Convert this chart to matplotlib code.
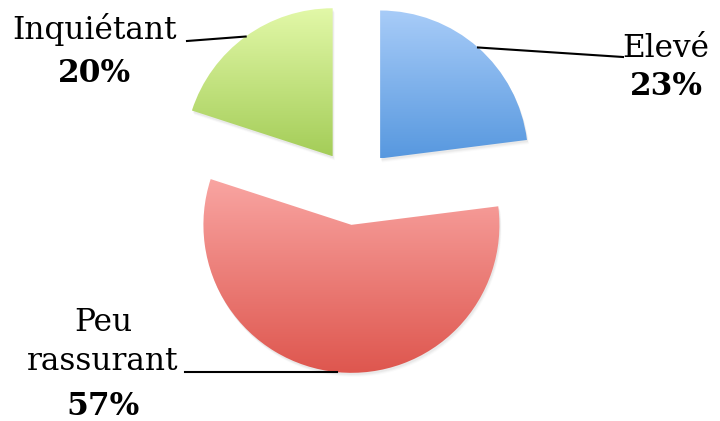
import numpy as np
import matplotlib
matplotlib.use("Agg")
import matplotlib.pyplot as plt
from matplotlib.colors import to_rgb

# data
categories = ["Elevé", "Peu\nrassurant", "Inquiétant"]
shares = [23, 57, 20]
top_colors = ["#a8ccf8", "#f9a5a2", "#e2f8a8"]
bottom_colors = ["#5798df", "#de564e", "#a4cd58"]

W, H = 720, 421
RADIUS = 148
CENTER = (355, H - 187)
EXPLODE = 38

plt.rcParams["font.family"] = ["DejaVu Serif"]

fig = plt.figure(figsize=(W / 100, H / 100), dpi=100)
ax = fig.add_axes([0, 0, 1, 1])
ax.set_axis_off()

wedges, _ = ax.pie(shares, radius=RADIUS, center=CENTER,
                   explode=[EXPLODE] * len(shares),
                   startangle=90, counterclock=False,
                   wedgeprops={"linewidth": 0})

for w, c_top, c_bot in zip(wedges, top_colors, bottom_colors):
    verts = w.get_path().vertices
    x0, x1 = verts[:, 0].min(), verts[:, 0].max()
    y0, y1 = verts[:, 1].min(), verts[:, 1].max()

    # soft shadow under each slice
    for k, a in [(4, 0.04), (3, 0.06), (2, 0.08)]:
        sh = matplotlib.patches.Wedge((w.center[0] + k * 0.5, w.center[1] - k),
                                      w.r, w.theta1, w.theta2,
                                      color="#808080", alpha=a, lw=0, zorder=0.5)
        ax.add_patch(sh)

    # vertical gradient fill clipped to the slice
    t = np.linspace(0, 1, 256)[:, None, None]
    grad = (1 - t) * np.array(to_rgb(c_bot)) + t * np.array(to_rgb(c_top))
    im = ax.imshow(grad, extent=(x0, x1, y0, y1), origin="lower",
                   aspect="auto", interpolation="bilinear", zorder=1)
    im.set_clip_path(w)
    w.set_facecolor("none")
    w.set_zorder(2)

# labels with leader lines from the slice bisector on the arc
label_pos = [(666, 57, 95), (103, 370, 415), (95, 39, 82)]
line_end = [(623, 57), (185, None), (187, 41)]
for w, name, pct, (tx, ty, py), (lx, ly) in zip(wedges, categories, shares,
                                                label_pos, line_end):
    mid = np.deg2rad((w.theta1 + w.theta2) / 2)
    ax_ = w.center[0] + w.r * np.cos(mid)
    ay_ = w.center[1] + w.r * np.sin(mid)
    ly = ay_ if ly is None else H - ly
    ax.plot([ax_, lx], [ay_, ly], color="black", lw=1.5, zorder=3)
    ax.text(tx, H - ty, name, ha="center", va="baseline", fontsize=22.5,
            linespacing=1.33, zorder=3)
    ax.text(tx, H - py, f"{pct}%", ha="center", va="baseline", fontsize=22.5,
            fontweight="bold", zorder=3)

ax.set_xlim(0, W)
ax.set_ylim(0, H)

fig.savefig("out.png", dpi=100)
